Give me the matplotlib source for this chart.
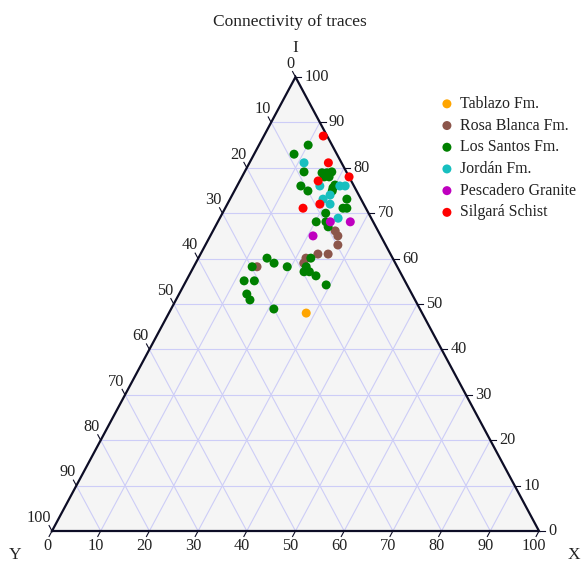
"""
plot.py — ternary diagram: connectivity of traces (I / X / Y node proportions).
"""
import matplotlib
matplotlib.use("Agg")
import matplotlib.pyplot as plt

plt.rcParams["font.family"] = ["Liberation Serif", "DejaVu Serif"]

# Node proportions (%) per formation: I, X, Y
tablazo_i = [48.0]
tablazo_x = [28.2]
tablazo_y = [23.8]

rosa_i = [66.1, 65.0, 63.0, 61.0, 61.0, 60.1, 59.0, 58.2]
rosa_x = [25.1, 26.2, 27.2, 24.1, 26.2, 22.1, 22.2, 13.0]
rosa_y = [8.8, 8.8, 9.8, 14.9, 12.8, 17.8, 18.8, 28.8]

santos_i = [85.0, 83.0, 79.1, 78.9, 78.9, 79.1, 78.0, 78.0, 76.0, 74.9,
            75.6, 76.2, 74.9, 73.1, 71.1, 71.1, 70.0, 68.1, 68.1, 67.0,
            60.1, 58.2, 57.1, 57.1, 56.2, 54.2, 60.1, 59.0, 58.2, 58.2,
            55.1, 55.1, 52.2, 50.9, 48.9]
santos_x = [10.1, 8.2, 12.2, 16.0, 17.0, 17.9, 16.9, 17.9, 13.1, 15.1,
            19.9, 20.0, 20.1, 24.0, 24.2, 25.0, 21.2, 20.2, 22.2, 23.2,
            23.1, 23.1, 23.2, 24.3, 26.1, 29.2, 14.1, 16.1, 19.2, 12.0,
            11.9, 14.0, 13.9, 15.2, 21.1]
santos_y = [4.9, 8.8, 8.7, 5.1, 4.1, 3.0, 5.1, 4.1, 10.9, 10.0,
            4.5, 3.8, 5.0, 2.9, 4.7, 3.9, 8.8, 11.7, 9.7, 9.8,
            16.8, 18.7, 19.7, 18.6, 17.7, 16.6, 25.8, 24.9, 22.6, 29.8,
            33.0, 30.9, 33.9, 33.9, 30.0]

jordan_i = [81.1, 76.0, 76.0, 76.0, 74.0, 73.1, 72.0, 68.9]
jordan_x = [11.2, 17.0, 21.1, 22.2, 20.1, 19.1, 21.1, 24.3]
jordan_y = [7.7, 7.0, 2.9, 1.8, 5.9, 7.8, 6.9, 6.8]

pescadero_i = [68.1, 68.1, 65.0]
pescadero_x = [23.1, 27.2, 21.1]
pescadero_y = [8.8, 4.7, 13.9]

silgara_i = [87.0, 81.1, 77.1, 78.0, 71.1, 72.0]
silgara_x = [12.2, 16.2, 16.1, 22.0, 16.0, 19.0]
silgara_y = [0.8, 2.7, 6.8, 0.0, 12.9, 9.0]

series = [
    ("Tablazo Fm.", tablazo_i, tablazo_x, tablazo_y, "#ffa500"),
    ("Rosa Blanca Fm.", rosa_i, rosa_x, rosa_y, "#8c564b"),
    ("Los Santos Fm.", santos_i, santos_x, santos_y, "#008000"),
    ("Jordán Fm.", jordan_i, jordan_x, jordan_y, "#17bfbf"),
    ("Pescadero Granite", pescadero_i, pescadero_x, pescadero_y, "#bf00bf"),
    ("Silgará Schist", silgara_i, silgara_x, silgara_y, "#ff0000"),
]
ticks = list(range(0, 101, 10))


def to_xy(i, x):
    """Ternary (I top, X bottom-right, Y bottom-left) -> cartesian, 0..100."""
    return [xx + ii / 2 for ii, xx in zip(i, x)], list(i)


W, H = 582, 564
fig = plt.figure(figsize=(W / 100, H / 100), dpi=100)
ax = fig.add_axes([52 / W, 33 / H, 487 / W, 454 / H])
ax.set_xlim(0, 100)
ax.set_ylim(0, 100)
ax.axis("off")

# background triangle
ax.fill([0, 100, 50], [0, 0, 100], color="#f5f5f5", zorder=0)

grid_kw = dict(color="#cdcdf7", lw=0.8, zorder=1)
for v in ticks[1:-1]:
    ax.plot(*to_xy([v, v], [0, 100 - v]), **grid_kw)          # constant I
    ax.plot(*to_xy([0, 100 - v], [v, v]), **grid_kw)          # constant X
    ax.plot(*to_xy([0, 100 - v], [100 - v, 0]), **grid_kw)    # constant Y

ax.plot([0, 100, 50, 0], [0, 0, 100, 0], color="#0d0d26", lw=1.6,
        zorder=2, clip_on=False, solid_joinstyle="miter")

# ticks + labels
tick_kw = dict(color="#0d0d26", lw=0.8, zorder=2, clip_on=False)
lab_kw = dict(textcoords="offset points", fontsize=11.7, color="#222")
tl = 1.2
for v in ticks:
    # I on right edge
    (cx,), (cy,) = to_xy([v], [100 - v])
    ax.plot([cx, cx + tl], [cy, cy], **tick_kw)
    ax.annotate(str(v), (cx, cy), xytext=(6.5, 0), ha="left", va="center", **lab_kw)
    # Y on left edge
    (cx,), (cy,) = to_xy([100 - v], [0])
    ax.plot([cx, cx - 0.5 * tl], [cy, cy + tl], **tick_kw)
    ax.annotate(str(v), (cx, cy), xytext=(-0.5, 9.5), ha="right", va="center", **lab_kw)
    # X on bottom edge
    (cx,), (cy,) = to_xy([0], [v])
    ax.plot([cx, cx - 0.5 * tl], [cy, cy - tl], **tick_kw)
    ax.annotate(str(v), (cx, cy), xytext=(-3.5, -11), ha="center", va="center", **lab_kw)

for name, i, x, y, col in series:
    px, py = to_xy(i, x)
    ax.scatter(px, py, s=42, color=col, edgecolors="none", label=name,
               zorder=3, clip_on=False)

fig.text(290 / W, 1 - 22 / H, "Connectivity of traces", ha="center",
         va="center", fontsize=12.5, color="#222")
fig.text(295 / W, 1 - 48 / H, "I", ha="center", va="center", fontsize=12.5, color="#222")
fig.text(15 / W, 1 - 555 / H, "Y", ha="center", va="center", fontsize=12.5, color="#222")
fig.text(574 / W, 1 - 555 / H, "X", ha="center", va="center", fontsize=12.5, color="#222")

fig.legend(loc="upper left", bbox_to_anchor=(439 / W, 1 - 96 / H),
           frameon=False, fontsize=11.4, handlelength=1.0, handletextpad=0.3,
           labelspacing=0.36, borderpad=0, borderaxespad=0, scatterpoints=1,
           labelcolor="#222")

fig.savefig("out.png", dpi=100)
